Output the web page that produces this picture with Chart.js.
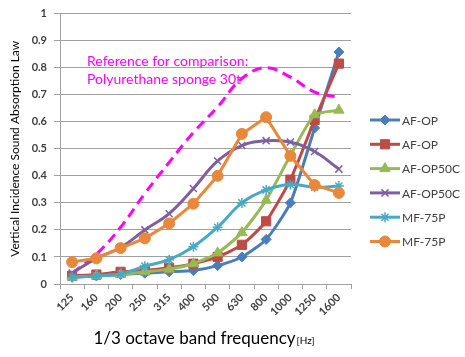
<!DOCTYPE html>
<html><head><meta charset="utf-8">
<script src="https://cdn.jsdelivr.net/npm/chart.js@4"></script>
<style>html,body{margin:0;padding:0;background:#fff}#wrap{width:465px;height:357px;position:relative}</style>
</head><body><div id="wrap"><canvas id="c" width="465" height="357"></canvas></div>
<script>
// ---- data ----
const categories = ['125','160','200','250','315','400','500','630','800','1000','1250','1600'];
const yTickValues = [0,0.1,0.2,0.3,0.4,0.5,0.6,0.7,0.8,0.9,1];
const seriesNames = ['AF-OP','AF-OP','AF-OP50C','AF-OP50C','MF-75P','MF-75P'];
const afOpA     = [0.025,0.03,0.035,0.04,0.045,0.05,0.068,0.10,0.165,0.30,0.577,0.858];
const afOpB     = [0.03,0.035,0.045,0.05,0.06,0.075,0.10,0.145,0.232,0.386,0.607,0.815];
const afOp50cA  = [0.025,0.03,0.035,0.045,0.055,0.075,0.115,0.19,0.31,0.475,0.626,0.643];
const afOp50cB  = [0.04,0.095,0.135,0.20,0.26,0.353,0.455,0.512,0.53,0.525,0.49,0.425];
const mf75pA    = [0.025,0.03,0.037,0.066,0.09,0.138,0.21,0.30,0.348,0.368,0.358,0.362];
const mf75pB    = [0.081,0.095,0.133,0.169,0.224,0.297,0.40,0.555,0.617,0.474,0.366,0.337];
const reference = [0.04,0.11,0.21,0.335,0.45,0.56,0.655,0.76,0.80,0.765,0.71,0.69];
const refLabel = ['Reference for comparison:','Polyurethane sponge 30t'];
const xTitle = '1/3 octave band frequency';
const xUnit = '[Hz]';
const yTitle = 'Vertical Incidence Sound Absorption Law';

const colors = ['#4A7EBB','#BE4B48','#98B954','#7D60A0','#46AAC5','#E9883A'];
const styles = [
  {pointStyle:'rectRot', radius:5, tension:0.2},
  {pointStyle:'rect', radius:6.5, tension:0.2},
  {pointStyle:'triangle', radius:6, tension:0.2},
  {pointStyle:'crossRot', radius:5, tension:0.4},
  {pointStyle:'star', radius:5, tension:0.4},
  {pointStyle:'circle', radius:5.5, tension:0}
];
const values = [afOpA, afOpB, afOp50cA, afOp50cB, mf75pA, mf75pB];

const datasets = values.map((v,i)=>({
  label: seriesNames[i],
  data: v,
  borderColor: colors[i],
  backgroundColor: colors[i],
  pointBackgroundColor: colors[i],
  pointBorderColor: colors[i],
  borderWidth: 3,
  pointBorderWidth: (styles[i].pointStyle==='crossRot'||styles[i].pointStyle==='star') ? 1.5 : 1,
  pointStyle: styles[i].pointStyle,
  pointRadius: styles[i].radius,
  tension: styles[i].tension,
  order: 6 - i
}));
datasets.push({
  label: 'ref',
  data: reference,
  borderColor: '#FF00FF',
  borderWidth: 3,
  borderDash: [10,6],
  pointRadius: 0,
  tension: 0.4,
  order: 7
});

const FONT = 'Lato, "Liberation Sans", sans-serif';

const extras = {
  id: 'extras',
  afterDraw(chart) {
    const ctx = chart.ctx;
    ctx.save();
    // annotation
    ctx.fillStyle = '#FF00FF';
    ctx.font = '14px ' + FONT;
    ctx.textAlign = 'left';
    ctx.textBaseline = 'middle';
    ctx.fillText(refLabel[0], 87, 61);
    ctx.fillText(refLabel[1], 87, 79);
    // x title
    ctx.fillStyle = '#000';
    ctx.textBaseline = 'alphabetic';
    ctx.font = '17px ' + FONT;
    const w1 = ctx.measureText(xTitle).width;
    ctx.font = '10px ' + FONT;
    const w2 = ctx.measureText(xUnit).width;
    const x0 = 204 - (w1 + w2 + 1) / 2;
    ctx.font = '17px ' + FONT;
    ctx.fillText(xTitle, x0, 344);
    ctx.font = '10px ' + FONT;
    ctx.fillText(xUnit, x0 + w1 + 1, 344);
    // legend
    const dsList = chart.data.datasets;
    for (let i = 0; i < seriesNames.length; i++) {
      const ds = dsList[i];
      const y = 120 + i * 24.3;
      ctx.strokeStyle = ds.borderColor;
      ctx.lineWidth = 3;
      ctx.setLineDash([]);
      ctx.beginPath();
      ctx.moveTo(370, y);
      ctx.lineTo(400, y);
      ctx.stroke();
      ctx.fillStyle = ds.borderColor;
      ctx.lineWidth = ds.pointBorderWidth;
      Chart.helpers.drawPoint(ctx, {pointStyle: ds.pointStyle, radius: ds.pointRadius, rotation: 0, borderWidth: ds.pointBorderWidth}, 385, y);
      ctx.fillStyle = '#404040';
      ctx.font = '12px ' + FONT;
      ctx.textBaseline = 'middle';
      ctx.fillText(ds.label, 402, y + 1);
    }
    ctx.restore();
  }
};

new Chart(document.getElementById('c'), {
  type: 'line',
  data: { labels: categories, datasets },
  options: {
    responsive: false,
    animation: false,
    devicePixelRatio: 1,
    layout: { padding: { top: 12, right: 114, left: 0, bottom: 0 } },
    plugins: { legend: { display: false }, tooltip: { enabled: false } },
    scales: {
      x: {
        offset: true,
        grid: { offset: true, drawOnChartArea: false, drawTicks: true, tickLength: 5, color: '#a0a0a0' },
        border: { color: '#a0a0a0' },
        ticks: { minRotation: 45, maxRotation: 45, autoSkip: false, color: '#404040', font: { family: FONT, size: 11, weight: 'bold' }, padding: 2 },
        afterFit(scale) { scale.height = 73; }
      },
      y: {
        min: 0, max: 1,
        afterBuildTicks(scale) { scale.ticks = yTickValues.map(v => ({ value: v })); },
        grid: { color: '#a0a0a0', tickLength: 6 },
        border: { color: '#a0a0a0' },
        ticks: { color: '#404040', padding: 7, font: { family: FONT, size: 11, weight: 'bold' }, callback: v => String(parseFloat(v.toFixed(1))) },
        title: { display: true, text: yTitle, color: '#000', font: { family: FONT, size: 12 }, padding: { top: 8, bottom: 0 } },
        afterFit(scale) { scale.width = 60; }
      }
    }
  },
  plugins: [extras]
});
</script>
</body></html>
